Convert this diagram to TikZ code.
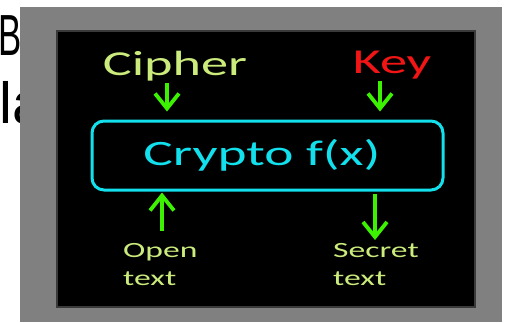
\documentclass[tikz,border=0pt]{standalone}
\usepackage{fontspec}
\usepackage{graphicx}
\setmainfont{Carlito}
\newfontfamily\slidefont{Liberation Sans}
\usetikzlibrary{arrows.meta}
\definecolor{framegray}{HTML}{808080}
\definecolor{edgegray}{HTML}{3A3A3A}
\definecolor{labelgreen}{HTML}{CBEC7C}
\definecolor{keyred}{HTML}{F31515}
\definecolor{arrowgreen}{HTML}{3CF200}
\definecolor{boxcyan}{HTML}{12E0EC}
% horizontally widened lettering
\newcommand{\wtext}[1]{\scalebox{1.55}[1]{#1}}
\tikzset{
  heading/.style={inner sep=0pt, font=\fontsize{35}{40}\selectfont},
  small/.style={inner sep=0pt, align=left, text=labelgreen,
    font=\fontsize{21.7}{28}\selectfont},
  flow/.style={draw=arrowgreen, line width=3.8pt,
    -{Straight Barb[length=15pt,width=24pt]}},
  funcbox/.style={draw=boxcyan, line width=3pt, rounded corners=12pt,
    minimum width=351pt, minimum height=69pt, inner sep=0pt,
    text=boxcyan, font=\fontsize{35.7}{40}\selectfont},
}
\begin{document}
\begin{tikzpicture}[x=1pt, y=-1pt]
\useasboundingbox (0,0) rectangle (506,322);
% slide lettering partly hidden behind the picture
\node[anchor=base west, inner sep=0pt, font=\slidefont\fontsize{58}{60}\selectfont]
  (bigB) at (-2,55) {\scalebox{0.6}[1]{B}};
\node[anchor=base west, inner sep=0pt, font=\slidefont\fontsize{58}{60}\selectfont]
  (bigla) at (-1,123) {la};
% picture frame and dark panel
\fill[framegray] (20,7) rectangle (502,322);
\fill[black] (57,31) rectangle (475,307);
\draw[edgegray, line width=1.2pt] (57,31) rectangle (475,307);
% labels
\node[heading, text=labelgreen, anchor=base] (cipher) at (175,75) {\wtext{Cipher}};
\node[heading, text=keyred, anchor=base] (key) at (392,73) {\wtext{Key}};
\node[funcbox] (crypto) at (267.5,155.5) {\wtext{Crypto f(x)}\kern11pt};
\node[small, anchor=north west] (open) at (123,243) {\wtext{Open}\\\wtext{text}};
\node[small, anchor=north west] (secret) at (333,243) {\wtext{Secret}\\\wtext{text}};
% arrow anchor points
\coordinate (c1) at (167,0);
\coordinate (k1) at (380,0);
\coordinate (o1) at (162,0);
\coordinate (s1) at (375,0);
% connectors
\draw[flow, shorten >=8pt] (c1 |- cipher.south) ++(0,2) -- (c1 |- crypto.north);
\draw[flow, shorten >=8pt] (k1 |- key.south) ++(0,2) -- (k1 |- crypto.north);
\draw[flow, shorten <=12pt, shorten >=1pt] (o1 |- open.north) -- (o1 |- crypto.south);
\draw[flow, shorten <=2pt, shorten >=3pt] (s1 |- crypto.south) -- (s1 |- secret.north);
\end{tikzpicture}
\end{document}
